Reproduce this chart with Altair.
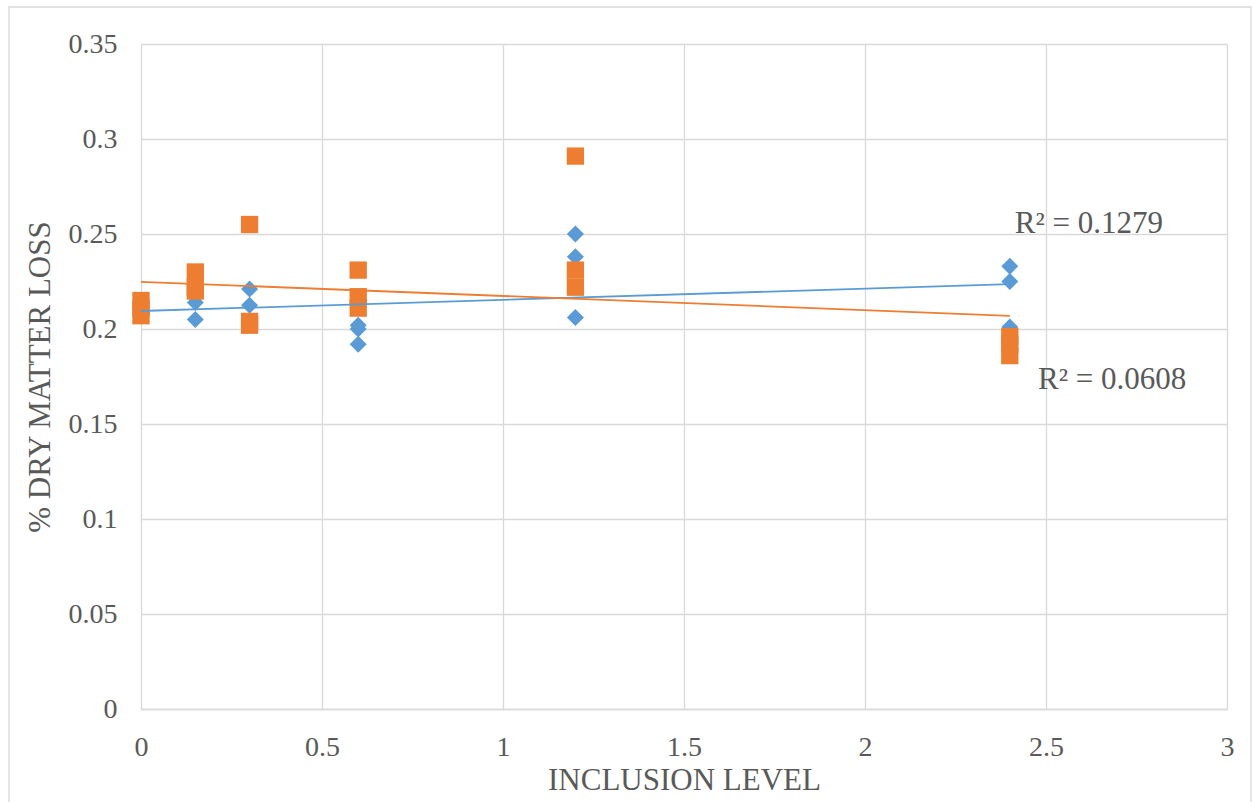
import altair as alt
import pandas as pd

# Inclusion levels (x) and % dry matter loss (y) for two series
blue_x = [0, 0, 0, 0.15, 0.15, 0.15, 0.3, 0.3, 0.3, 0.6, 0.6, 0.6, 1.2, 1.2, 1.2, 2.4, 2.4, 2.4]
blue_y = [0.209, 0.210, 0.212, 0.205, 0.214, 0.218, 0.221, 0.2125, 0.204,
          0.192, 0.200, 0.202, 0.206, 0.238, 0.250, 0.201, 0.225, 0.233]
orange_x = [0, 0, 0, 0.15, 0.15, 0.15, 0.3, 0.3, 0.3, 0.6, 0.6, 0.6, 1.2, 1.2, 1.2, 2.4, 2.4, 2.4]
orange_y = [0.207, 0.211, 0.215, 0.220, 0.222, 0.230, 0.255, 0.202, 0.204,
            0.231, 0.217, 0.211, 0.291, 0.231, 0.222, 0.196, 0.192, 0.186]
r2_labels = ["R² = 0.1279", "R² = 0.0608"]

BLUE = "#5B9BD5"
ORANGE = "#ED7D31"
GREY = "#595959"
GRID = "#D9D9D9"
FONT = "Liberation Serif"

blue_df = pd.DataFrame({"x": blue_x, "y": blue_y})
orange_df = pd.DataFrame({"x": orange_x, "y": orange_y})

xscale = alt.Scale(domain=[0, 3], nice=False)
yscale = alt.Scale(domain=[0, 0.35], nice=False)

xaxis = alt.Axis(values=[0, 0.5, 1, 1.5, 2, 2.5, 3], format="~g", title="INCLUSION LEVEL",
                 domain=True, labelPadding=24, titlePadding=4)
yaxis = alt.Axis(values=[0, 0.05, 0.1, 0.15, 0.2, 0.25, 0.3, 0.35], format="~g",
                 title="% DRY MATTER LOSS", domain=False, labelPadding=24, titlePadding=12)

border = alt.Chart(pd.DataFrame({"a": [0]})).mark_rect(
    fillOpacity=0, stroke=GRID, strokeWidth=1.3
).encode(x=alt.value(-132), x2=alt.value(1110), y=alt.value(-37), y2=alt.value(770))

blue_pts = alt.Chart(blue_df).mark_point(
    shape="diamond", filled=True, size=290, color=BLUE, opacity=1
).encode(x=alt.X("x:Q", scale=xscale, axis=xaxis), y=alt.Y("y:Q", scale=yscale, axis=yaxis))

orange_pts = alt.Chart(orange_df).mark_point(
    shape="square", filled=True, size=300, color=ORANGE, opacity=1
).encode(x=alt.X("x:Q", scale=xscale), y=alt.Y("y:Q", scale=yscale))

blue_line = alt.Chart(blue_df).transform_regression(
    "x", "y", extent=[0, 2.4]
).mark_line(color=BLUE, strokeWidth=1.8).encode(
    x=alt.X("x:Q", scale=xscale), y=alt.Y("y:Q", scale=yscale))

orange_line = alt.Chart(orange_df).transform_regression(
    "x", "y", extent=[0, 2.4]
).mark_line(color=ORANGE, strokeWidth=1.8).encode(
    x=alt.X("x:Q", scale=xscale), y=alt.Y("y:Q", scale=yscale))

txt1 = alt.Chart(pd.DataFrame({"t": [r2_labels[0]]})).mark_text(
    align="left", baseline="middle", font=FONT, fontSize=31, color=GREY
).encode(x=alt.datum(2.414, scale=xscale), y=alt.datum(0.2553, scale=yscale), text="t:N")

txt2 = alt.Chart(pd.DataFrame({"t": [r2_labels[1]]})).mark_text(
    align="left", baseline="middle", font=FONT, fontSize=31, color=GREY
).encode(x=alt.datum(2.478, scale=xscale), y=alt.datum(0.1732, scale=yscale), text="t:N")

chart = alt.layer(border, blue_pts, orange_pts, blue_line, orange_line, txt1, txt2).properties(
    width=1086, height=665,
    autosize=alt.AutoSizeParams(type="none"),
    padding={"left": 141, "top": 44, "right": 25, "bottom": 93},
    background="white",
).configure_view(stroke=None).configure_axis(
    grid=True, gridColor=GRID, gridWidth=1.3, domainColor=GRID, domainWidth=1.3,
    ticks=False, labelFlush=False, labelOverlap=False,
    labelFont=FONT, titleFont=FONT, labelFontSize=28, titleFontSize=31,
    labelColor=GREY, titleColor=GREY, titleFontWeight="normal",
)

chart.save("out.html", embed_options={"renderer": "svg", "actions": False})
